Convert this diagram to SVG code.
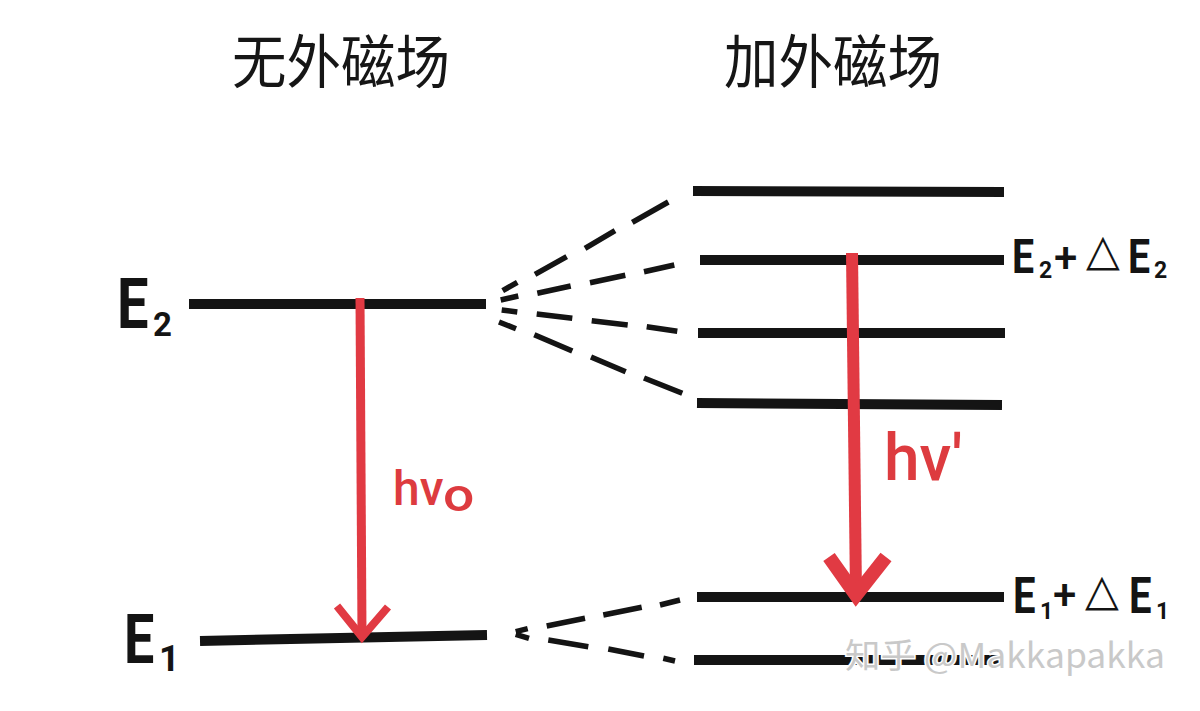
<svg xmlns="http://www.w3.org/2000/svg" width="1200" height="711" viewBox="0 0 1200 711">
<style>
.lvl{stroke:#141414;stroke-width:10;fill:none;stroke-linecap:butt}
.dash{stroke:#141414;stroke-width:5.5;fill:none;stroke-linecap:butt}
.arr{stroke:#e13a43;fill:none;stroke-linecap:butt;stroke-linejoin:miter}
.lab{font-family:Roboto,"Liberation Sans",sans-serif;font-weight:700;fill:#141414}
.sub{font-family:Roboto,"Liberation Sans",sans-serif;font-weight:700;fill:#141414}
.pl{font-family:Roboto,"Liberation Sans",sans-serif;font-weight:500;fill:#141414}
.red{font-family:Roboto,"Liberation Sans",sans-serif;font-weight:500;fill:#dd3b3f}
.tt{font-family:"Noto Sans CJK SC",sans-serif;font-weight:400;fill:#161616}
.tri{font-family:"DejaVu Sans",sans-serif;fill:#141414}
</style>
<rect width="1200" height="711" fill="#ffffff"/>
<g id="title-left"><text class="tt" x="232" y="83" font-size="58" textLength="218" lengthAdjust="spacingAndGlyphs">无外磁场</text></g>
<g id="title-right"><text class="tt" x="724" y="83" font-size="58" textLength="218" lengthAdjust="spacingAndGlyphs">加外磁场</text></g>
<g id="level-E2">
<line class="lvl" x1="189" y1="304" x2="486" y2="304"/>
<text class="lab" transform="translate(117,328) scale(0.8,1)" font-size="70">E</text><text class="sub" x="153" y="336" font-size="33">2</text>
</g>
<g id="level-E1">
<line class="lvl" x1="200" y1="641" x2="487" y2="635"/>
<text class="lab" transform="translate(124,663) scale(0.78,1)" font-size="69">E</text><text class="sub" x="159" y="671" font-size="36">1</text>
</g>
<g id="split-1"><line class="lvl" x1="693" y1="191" x2="1004" y2="192"/></g>
<g id="split-2"><line class="lvl" x1="700" y1="260" x2="1004" y2="260"/>
<text class="lab" transform="translate(1012,273) scale(0.8,1)" font-size="49">E</text><text class="sub" x="1039" y="278" font-size="23">2</text>
<text class="pl" x="1054" y="272" font-size="42">+</text>
<text class="tri" x="1086" y="265" font-size="44">△</text>
<text class="lab" transform="translate(1128,273) scale(0.8,1)" font-size="49">E</text><text class="sub" x="1154" y="278" font-size="23">2</text>
</g>
<g id="split-3"><line class="lvl" x1="698" y1="333" x2="1005" y2="333"/></g>
<g id="split-4"><line class="lvl" x1="697" y1="403" x2="1002" y2="405"/></g>
<g id="split-5"><line class="lvl" x1="697" y1="597" x2="1004" y2="597"/>
<text class="lab" transform="translate(1013,613) scale(0.8,1)" font-size="50">E</text><text class="sub" x="1040" y="619" font-size="23">1</text>
<text class="pl" x="1053" y="609" font-size="42">+</text>
<text class="tri" x="1085" y="605" font-size="44">△</text>
<text class="lab" transform="translate(1129,613) scale(0.8,1)" font-size="50">E</text><text class="sub" x="1156" y="619" font-size="23">1</text>
</g>
<g id="split-6"><line class="lvl" x1="694" y1="660" x2="1004" y2="660"/></g>
<g id="connectors">
<path class="dash" d="M502.7,290.7L517.3,282.3M535,274.3L566.7,256.7M585,248.3L615,230.7M632.3,222.3L668.3,202"/>
<path class="dash" d="M500.7,300L518.3,296M537.3,293.3L570.7,286M590,282.7L625.3,275.3M644,271.7L674.3,265"/>
<path class="dash" d="M501.7,310L517.3,312M536.7,314L572.3,318.3M591.7,320.7L627.7,325M646.7,326.7L677.3,331.3"/>
<path class="dash" d="M499,322L516,328.7M534.3,334.7L572.3,351M591,357L625.7,371.7M644,378L682.3,393.3"/>
<path class="dash" d="M515.7,631.7L527.7,628.7M546.7,626L585,618.3M603.3,615L641.7,607.3M660,605L680,600"/>
<path class="dash" d="M515.7,634.3L529,638.3M548.3,640L588.3,646.7M608.3,649L644,656M663.3,658.3L675,661"/>
</g>
<g id="transition-left">
<line class="arr" stroke-width="9" x1="360" y1="298" x2="362" y2="636"/>
<path class="arr" stroke-width="8" d="M337,606L362,637L388,607"/>
<text class="red" x="393" y="505" font-size="48">hν</text><text class="red" transform="translate(443,511) scale(1.2,1)" font-size="46" font-weight="700">o</text>
</g>
<g id="transition-right">
<line class="arr" stroke-width="12" x1="852" y1="253" x2="856" y2="594"/>
<path class="arr" stroke-width="14" d="M829,557L856,595L886,557"/>
<text class="red" x="884" y="480" font-size="64">hν'</text>
</g>
<g id="watermark"><text x="845" y="668" font-family="'Noto Sans CJK SC',sans-serif" font-size="34" fill="#c9c9c9" stroke="#ffffff" stroke-width="3" paint-order="stroke" textLength="320" lengthAdjust="spacingAndGlyphs">知乎 @Makkapakka</text></g>
</svg>
